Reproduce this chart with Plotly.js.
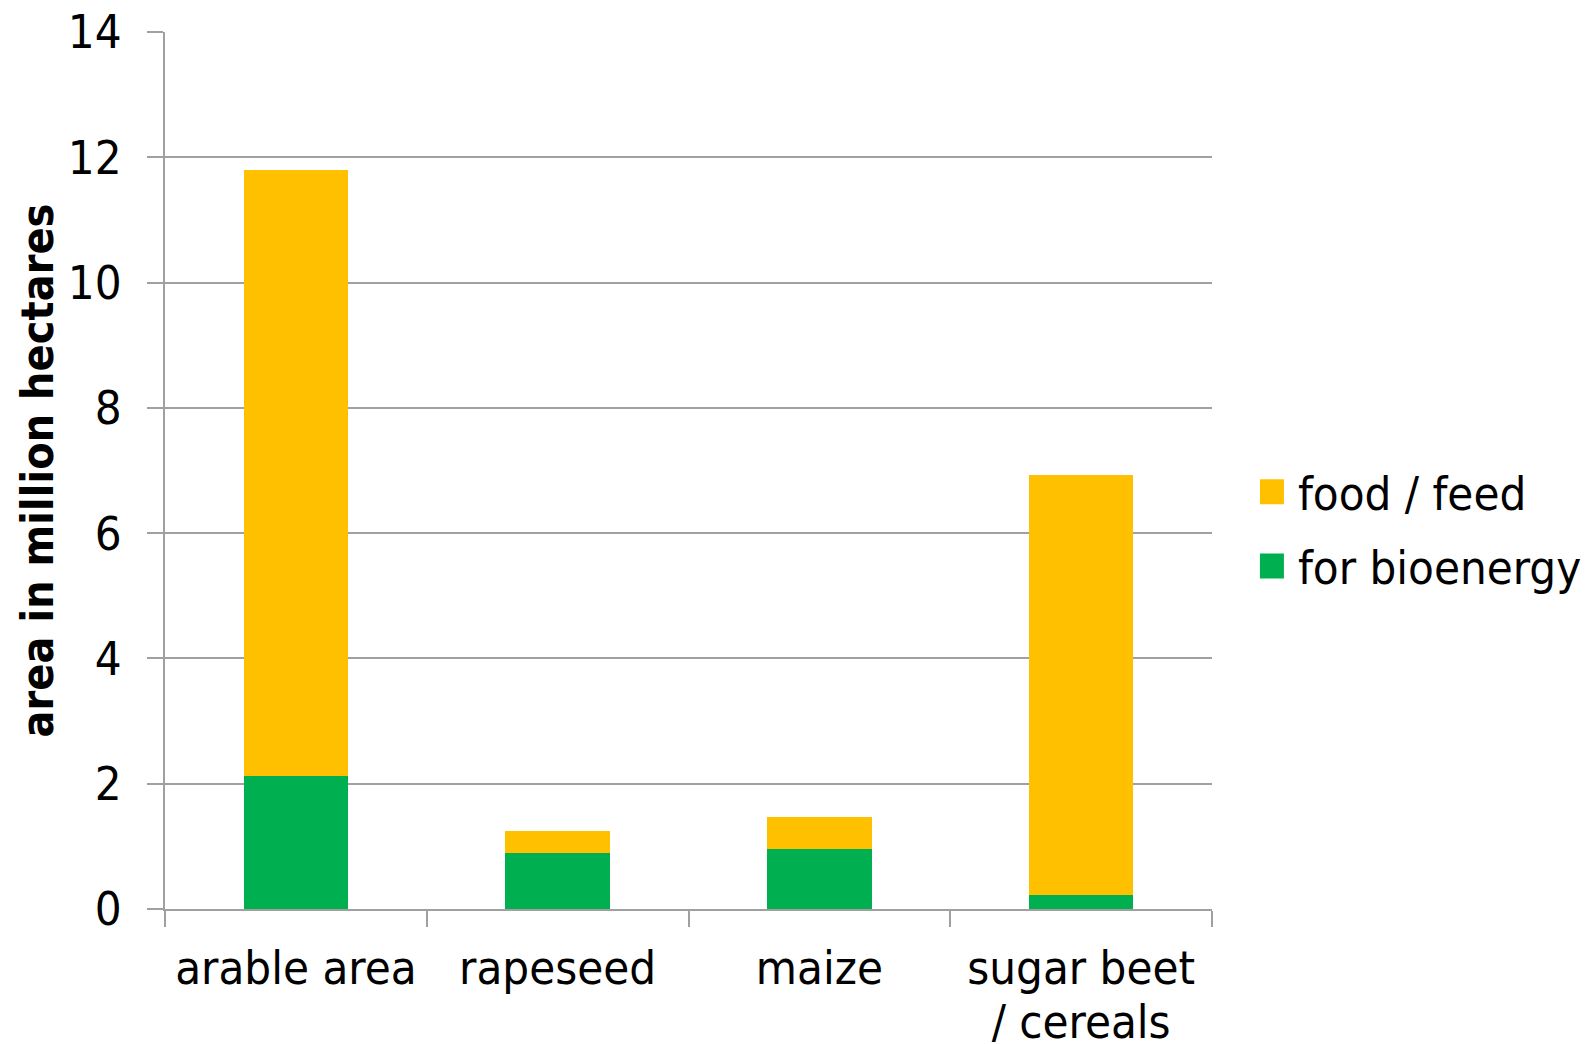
<!DOCTYPE html>
<html>
<head>
<meta charset="utf-8">
<script src="https://cdn.plot.ly/plotly-3.0.1.min.js"></script>
<style>html,body{margin:0;padding:0;background:#fff;}#chart{width:1589px;height:1044px;}</style>
</head>
<body>
<div id="chart"></div>
<script>
var categories = ["arable area", "rapeseed", "maize", "sugar beet<br>/ cereals"];
var bioenergy = [2.12, 0.90, 0.96, 0.23];
var foodFeed = [9.67, 0.35, 0.51, 6.70];
var seriesNames = ["for bioenergy", "food / feed"];
var yTicks = [0, 2, 4, 6, 8, 10, 12, 14];

var FONT = '"DejaVu Sans Condensed", "DejaVu Sans", sans-serif';
var GRAY = '#a0a0a0';

var traces = [
  {type: 'bar', name: seriesNames[0], x: categories, y: bioenergy,
   marker: {color: '#00B050'}, legendgroup: 'a', legendrank: 2},
  {type: 'bar', name: seriesNames[1], x: categories, y: foodFeed,
   marker: {color: '#FFC000'}, legendgroup: 'b', legendrank: 1}
];

var layout = {
  width: 1589, height: 1044,
  margin: {l: 165, r: 377, t: 32, b: 135},
  paper_bgcolor: '#fff', plot_bgcolor: '#fff',
  barmode: 'stack', bargap: 0.6,
  font: {family: FONT, size: 47, color: '#000'},
  xaxis: {
    type: 'category', showline: true, linecolor: GRAY, linewidth: 2,
    ticks: 'outside', tickson: 'boundaries', ticklen: 16, tickwidth: 2, tickcolor: GRAY,
    showgrid: false, tickfont: {size: 47}, ticklabelstandoff: 17
  },
  yaxis: {
    range: [0, 14], tickvals: yTicks, showline: true, linecolor: GRAY, linewidth: 2,
    ticks: 'outside', ticklen: 16, tickwidth: 2, tickcolor: GRAY,
    showgrid: true, gridcolor: GRAY, gridwidth: 2, zeroline: false,
    tickfont: {size: 47}, ticklabelstandoff: 16,
    title: {text: '<b>area in million hectares</b>', font: {size: 44.5}, standoff: 0}
  },
  showlegend: true,
  legend: {xref: 'container', x: 0.9987, y: 0.433, xanchor: 'right', yanchor: 'middle',
           traceorder: 'grouped', tracegroupgap: 10,
           font: {size: 47}, bgcolor: 'rgba(0,0,0,0)'}
};

function tweakText() {
  document.querySelectorAll('#chart .legendpoints path').forEach(function (p) {
    p.setAttribute('d', 'M6,12.5H-18V-12.5H6Z');
  });
  document.querySelectorAll('#chart .xtick text tspan.line').forEach(function (t) {
    if (t.getAttribute('dy') && t.previousSibling) t.setAttribute('dy', '1.13em');
  });
}

Plotly.newPlot('chart', traces, layout, {displayModeBar: false, staticPlot: true}).then(function (gd) {
  tweakText();
  gd.on('plotly_afterplot', tweakText);
});
</script>
</body>
</html>
